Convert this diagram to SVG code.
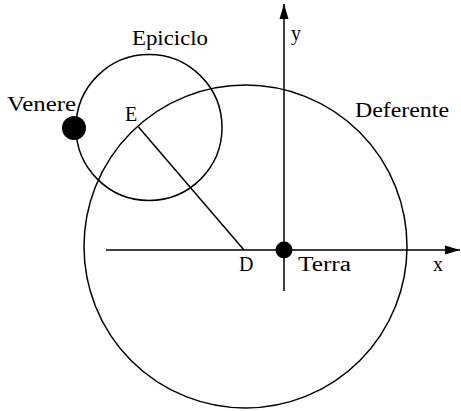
<svg xmlns="http://www.w3.org/2000/svg" width="461" height="411" viewBox="0 0 461 411">
<style>
.ln{fill:none;stroke:#000;stroke-width:1.5}
.dot{fill:#000}
text{font-family:"Liberation Serif","DejaVu Serif",serif;font-size:20px;fill:#000}
</style>
<defs>
<marker id="ah" markerUnits="userSpaceOnUse" markerWidth="16" markerHeight="10" refX="15" refY="5" orient="auto">
<path d="M0,0.5 L15,5 L0,9.5 Z" fill="#000"/>
</marker>
</defs>
<rect width="461" height="411" fill="#fff"/>
<g id="deferente">
<circle class="ln" cx="245.5" cy="246.5" r="161.5"/>
<text x="355" y="117" textLength="94" lengthAdjust="spacingAndGlyphs">Deferente</text>
</g>
<g id="epiciclo">
<circle class="ln" cx="149" cy="127.5" r="73"/>
<text x="132" y="45" textLength="76" lengthAdjust="spacingAndGlyphs">Epiciclo</text>
</g>
<g id="connectors">
<line class="ln" x1="106" y1="250" x2="460" y2="250" marker-end="url(#ah)"/>
<line class="ln" x1="284" y1="291" x2="284" y2="4" marker-end="url(#ah)"/>
<line class="ln" x1="138.5" y1="127" x2="244" y2="250"/>
</g>
<g id="axis-labels">
<text x="433" y="271">x</text>
<text x="291" y="40">y</text>
</g>
<g id="E">
<text x="125" y="121">E</text>
</g>
<g id="D">
<text x="239" y="271">D</text>
</g>
<g id="terra">
<circle class="dot" cx="284" cy="250" r="8.5"/>
<text x="298" y="271" textLength="53" lengthAdjust="spacingAndGlyphs">Terra</text>
</g>
<g id="venere">
<circle class="dot" cx="74" cy="128" r="12"/>
<text x="7" y="111" textLength="69" lengthAdjust="spacingAndGlyphs">Venere</text>
</g>
</svg>
